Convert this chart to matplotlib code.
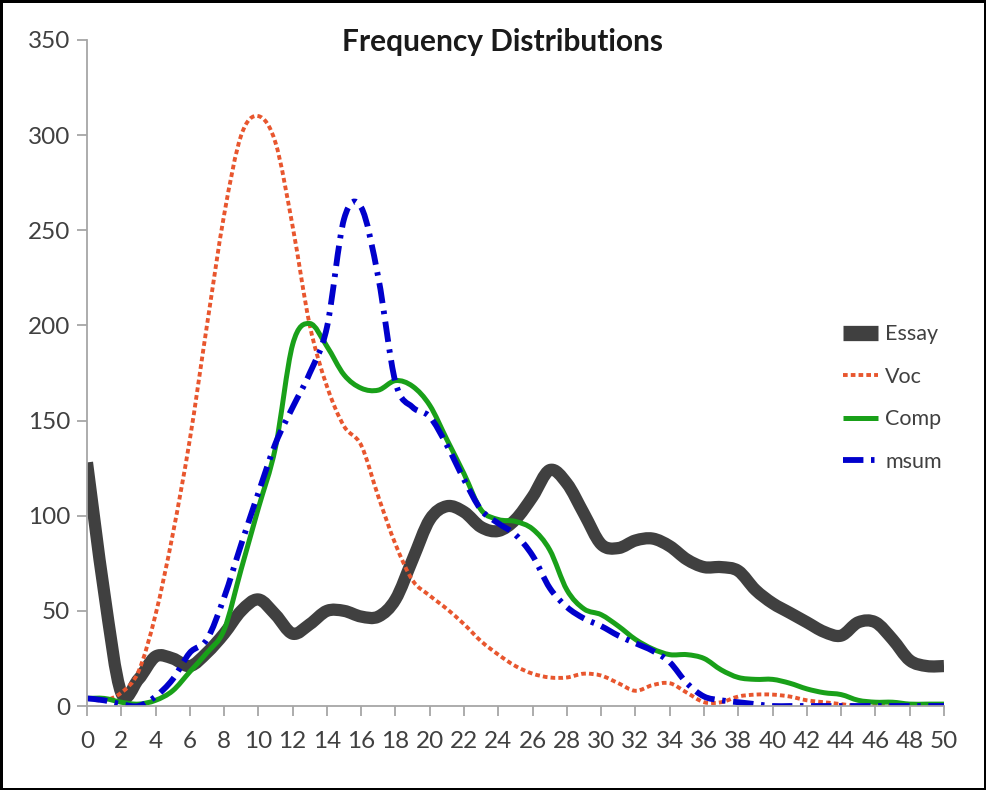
import numpy as np
import matplotlib.pyplot as plt
from matplotlib.path import Path
from matplotlib.patches import PathPatch
from matplotlib.lines import Line2D

plt.rcParams['font.family'] = ['Lato', 'DejaVu Sans']

# score 0..50
scores = list(range(51))
essay = [128, 60, 7, 14, 26, 25, 21, 28, 38, 50,
         56, 48, 38, 43, 50, 50, 47, 47, 56, 77,
         98, 105, 102, 94, 92, 98, 110, 124, 117, 101,
         85, 83, 87, 88, 84, 77, 73, 73, 71, 61,
         54, 49, 44, 39, 37, 44, 44, 35, 24, 21,
         21]
voc = [4, 3, 7, 18, 48, 90, 140, 200, 258, 300,
       310, 296, 252, 200, 168, 147, 137, 110, 85, 66,
       58, 51, 43, 34, 27, 21, 17, 15, 15, 17,
       16, 12, 8, 11, 12, 7, 2, 2, 5, 6,
       6, 5, 3, 2, 1, 0, 0, 0, 0, 0,
       0]
comp = [4, 4, 2, 1, 3, 8, 18, 28, 40, 72,
        104, 136, 190, 201, 189, 174, 167, 166, 171, 168,
        158, 140, 122, 103, 98, 97, 93, 82, 61, 51,
        48, 42, 35, 30, 27, 27, 25, 19, 15, 14,
        14, 12, 9, 7, 6, 3, 2, 2, 1, 1,
        1]
msum = [4, 3, 1, 0, 5, 14, 28, 35, 57, 85,
        112, 138, 157, 175, 199, 256, 262, 225, 170, 157,
        152, 137, 119, 103, 96, 90, 79, 62, 52, 46,
        42, 37, 33, 29, 23, 12, 5, 3, 2, 1,
        0, 0, 0, 0, 0, 0, 0, 0, 0, 0,
        0]


def smooth_path(x, y):
    # Excel-style smoothed line: cubic Bezier through every data point
    p = np.column_stack([x, y]).astype(float)
    ext = np.vstack([p[0], p, p[-1]])
    verts = [p[0]]
    codes = [Path.MOVETO]
    for i in range(len(p) - 1):
        c1 = ext[i + 1] + (ext[i + 2] - ext[i]) / 6
        c2 = ext[i + 2] - (ext[i + 3] - ext[i + 1]) / 6
        verts += [c1, c2, p[i + 1]]
        codes += [Path.CURVE4] * 3
    return Path(verts, codes)


fig = plt.figure(figsize=(9.86, 7.90), dpi=100)
fig.patch.set_edgecolor('black')
fig.patch.set_linewidth(2.5)
ax = fig.add_axes([0.0882, 0.1063, 0.8692, 0.8431])

series = [
    ('Essay', essay, dict(color='#404040', lw=8.8, linestyle='-', capstyle='butt')),
    ('Voc', voc, dict(color='#E8562E', lw=2.8, linestyle=(0, (1.2, 0.8)), capstyle='butt')),
    ('Comp', comp, dict(color='#19A019', lw=3.6, linestyle='-', capstyle='butt')),
    ('msum', msum, dict(color='#0000CC', lw=4.2, linestyle=(0, (3.5, 1.3, 0.6, 1.3)),
                        capstyle='butt')),
]
handles = []
for name, vals, st in series:
    patch = PathPatch(smooth_path(scores, vals), fill=False, joinstyle='round', **st)
    ax.add_patch(patch)
    handles.append(Line2D([], [], color=st['color'], lw=st['lw'],
                          linestyle=st['linestyle'], solid_capstyle='butt',
                          dash_capstyle='butt'))
handles[0].set_linewidth(11)

ax.set_xlim(0, 50)
ax.set_ylim(0, 350)
ax.set_xticks(range(0, 51, 2))
ax.set_yticks(range(0, 351, 50))
for s in ['top', 'right']:
    ax.spines[s].set_visible(False)
for s in ['left', 'bottom']:
    ax.spines[s].set_color('#A6A6A6')
    ax.spines[s].set_linewidth(1.3)
ax.tick_params(colors='#A6A6A6', labelcolor='#404040', labelsize=17.5,
               length=7, width=1.3)
ax.tick_params(axis='x', pad=11)
ax.tick_params(axis='y', pad=5)

fig.text(503 / 986, 1 - 42 / 790, 'Frequency Distributions', fontsize=21.5,
         fontweight='bold', color='#1a1a1a', ha='center', va='center')

leg = ax.legend(handles, [s[0] for s in series], loc='center left',
                bbox_to_anchor=(0.86, 0.4625), frameon=False,
                fontsize=15.5, labelcolor='#404040', handlelength=1.6,
                handletextpad=0.35, labelspacing=1.05)

fig.savefig('out.png', dpi=100)
